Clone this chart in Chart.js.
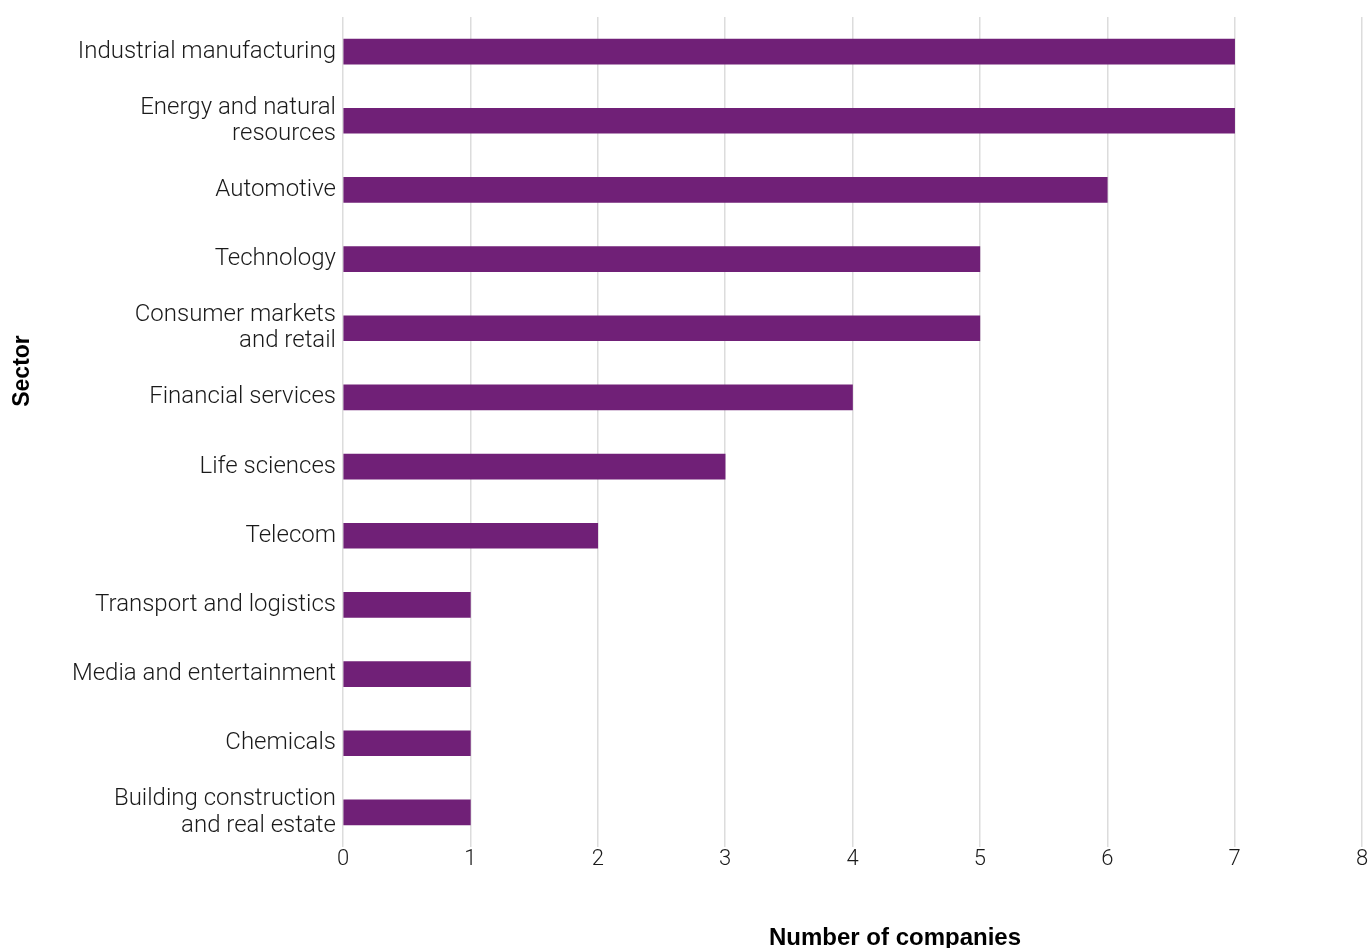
<!DOCTYPE html>
<html>
<head>
<meta charset="utf-8">
<title>Companies by sector</title>
<script src="https://cdn.jsdelivr.net/npm/chart.js@4.4.1/dist/chart.umd.min.js"></script>
<style>
  html, body { margin: 0; padding: 0; background: #ffffff; }
  #wrap { width: 1370px; height: 948px; }
</style>
</head>
<body>
<div id="wrap"><canvas id="chartSectores" width="1370" height="948"></canvas></div>
<script>
// sectors, top to bottom
const sectores = [
  ["Industrial manufacturing"],
  ["Energy and natural", "resources"],
  ["Automotive"],
  ["Technology"],
  ["Consumer markets", "and retail"],
  ["Financial services"],
  ["Life sciences"],
  ["Telecom"],
  ["Transport and logistics"],
  ["Media and entertainment"],
  ["Chemicals"],
  ["Building construction", "and real estate"],
];
const empresas = [7, 7, 6, 5, 5, 4, 3, 2, 1, 1, 1, 1];
const ejeMin = 0;
const ejeMax = 8;
const ejePaso = 1;

const tituloY = "Sector";
const tituloX = "Number of companies";

const morado = "#702077";
const fuenteTexto = "Roboto, 'Liberation Sans', sans-serif";

// axis titles drawn by hand so they can sit off-centre
const titulosEjes = {
  id: "titulosEjes",
  afterDraw(chart) {
    const ctx = chart.ctx;
    const area = chart.chartArea;
    ctx.save();
    ctx.fillStyle = "#000000";
    ctx.textAlign = "center";

    ctx.textBaseline = "middle";
    ctx.font = "bold 23px 'Liberation Sans', Arial, sans-serif";
    ctx.translate(23, area.top + 354);
    ctx.rotate(-Math.PI / 2);
    ctx.fillText(tituloY, 0, 0);
    ctx.setTransform(1, 0, 0, 1, 0, 0);

    ctx.textBaseline = "alphabetic";
    ctx.font = "bold 24px 'Liberation Sans', Arial, sans-serif";
    ctx.fillText(tituloX, area.left + 552, 945);
    ctx.restore();
  },
};

new Chart(document.getElementById("chartSectores"), {
  type: "bar",
  data: {
    labels: sectores,
    datasets: [
      {
        label: tituloX,
        data: empresas,
        backgroundColor: morado,
        borderWidth: 0,
        barThickness: 25,
      },
    ],
  },
  options: {
    indexAxis: "y",
    responsive: false,
    devicePixelRatio: 1,
    animation: false,
    layout: {
      padding: { top: 17, right: 8, bottom: 0, left: 0 },
    },
    plugins: {
      legend: { display: false },
      tooltip: { enabled: false },
    },
    scales: {
      x: {
        min: ejeMin,
        max: ejeMax,
        ticks: {
          stepSize: ejePaso,
          padding: -1,
          color: "#1a1a1a",
          font: { family: fuenteTexto, size: 22, weight: "300" },
        },
        grid: {
          color: "#dcdcdc",
          lineWidth: 1.5,
          drawTicks: false,
        },
        border: { display: false },
        afterFit(scale) {
          scale.height = 101;
        },
      },
      y: {
        ticks: {
          padding: 7,
          color: "#1a1a1a",
          font: { family: fuenteTexto, size: 24, weight: "300", lineHeight: 1.1 },
        },
        grid: { display: false, drawTicks: false },
        border: { display: false },
        afterFit(scale) {
          scale.width = 343;
          scale.paddingTop = 0;
          scale.paddingBottom = 0;
        },
      },
    },
  },
  plugins: [titulosEjes],
});
</script>
</body>
</html>
